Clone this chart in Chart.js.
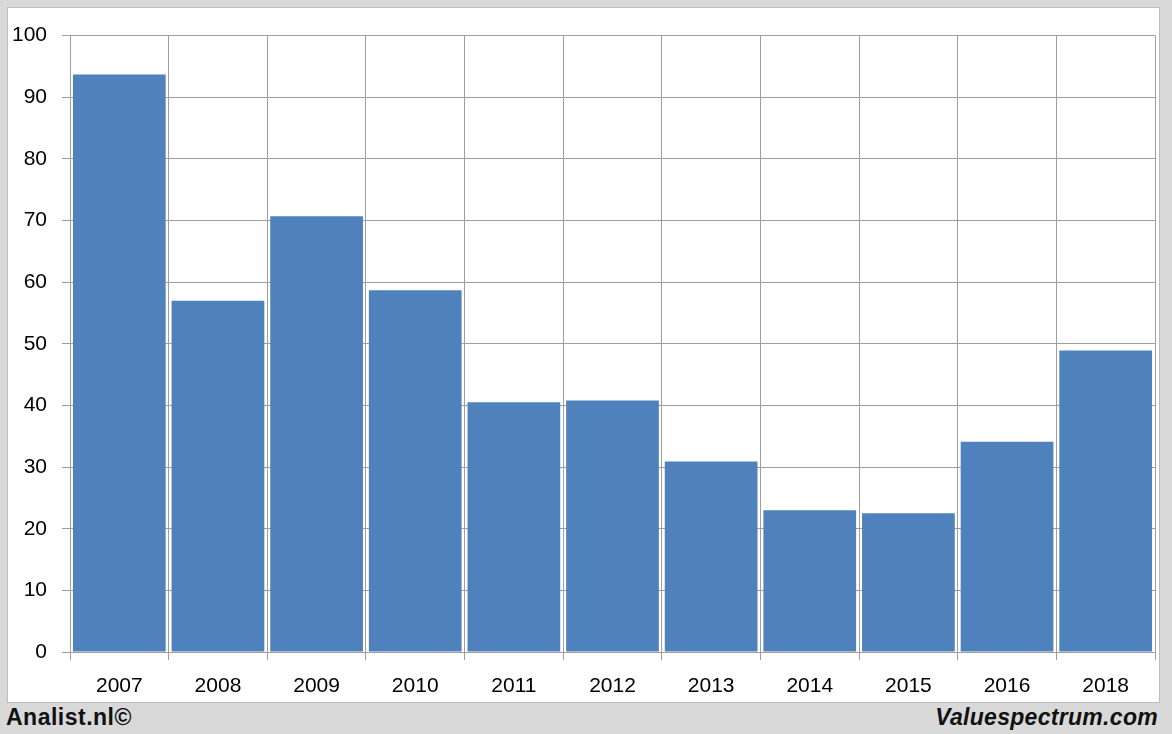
<!DOCTYPE html>
<html>
<head>
<meta charset="utf-8">
<script src="https://cdn.jsdelivr.net/npm/chart.js@4.4.1/dist/chart.umd.min.js"></script>
<style>
  html, body { margin: 0; padding: 0; }
  body { width: 1172px; height: 734px; background: #d9d9d9; position: relative; overflow: hidden; font-family: 'Liberation Sans', Arial, sans-serif; }
  #panel { position: absolute; left: 7px; top: 7px; width: 1151px; height: 694px; background: #fff; border: 1px solid #bdbdbd; }
  #panel canvas { position: absolute; left: 0; top: 0; }
  .foot { position: absolute; top: 703px; font-size: 23px; font-weight: bold; color: #111; line-height: 28px; }
  #left { left: 6px; letter-spacing: 0.5px; }
  #right { right: 14px; font-style: italic; letter-spacing: 0.3px; }
</style>
</head>
<body>
<div id="panel"><canvas id="chart" width="1151" height="694"></canvas></div>
<div class="foot" id="left">Analist.nl©</div>
<div class="foot" id="right">Valuespectrum.com</div>
<script>
const years = ['2007', '2008', '2009', '2010', '2011', '2012', '2013', '2014', '2015', '2016', '2018'];
const values = [93.7, 57.0, 70.7, 58.7, 40.5, 40.8, 30.9, 23.0, 22.5, 34.1, 48.9];
const yMin = 0;
const yMax = 100;
const yStep = 10;

const ctx = document.getElementById('chart').getContext('2d');
const gridColor = '#9e9e9e';

new Chart(ctx, {
  type: 'bar',
  data: {
    labels: years,
    datasets: [{
      data: values,
      backgroundColor: '#4f81bd',
      borderWidth: 0,
      barPercentage: 0.94,
      categoryPercentage: 1
    }]
  },
  options: {
    responsive: false,
    animation: false,
    layout: { padding: { top: 25, right: 4, left: 0, bottom: 0 } },
    plugins: { legend: { display: false }, tooltip: { enabled: false } },
    scales: {
      x: {
        grid: { color: gridColor, lineWidth: 1, offset: true, tickLength: 8, drawOnChartArea: true },
        border: { color: gridColor, width: 1 },
        ticks: { color: '#000', font: { family: 'Liberation Sans', size: 21 }, padding: 14, maxRotation: 0 },
        afterFit: s => { s.height = 50; }
      },
      y: {
        min: yMin,
        max: yMax,
        grid: { color: gridColor, lineWidth: 1, tickLength: 8 },
        border: { color: gridColor, width: 1 },
        ticks: { stepSize: yStep, color: '#000', font: { family: 'Liberation Sans', size: 21 }, padding: 15 },
        afterFit: s => { s.width = 62; }
      }
    }
  }
});
</script>
</body>
</html>
